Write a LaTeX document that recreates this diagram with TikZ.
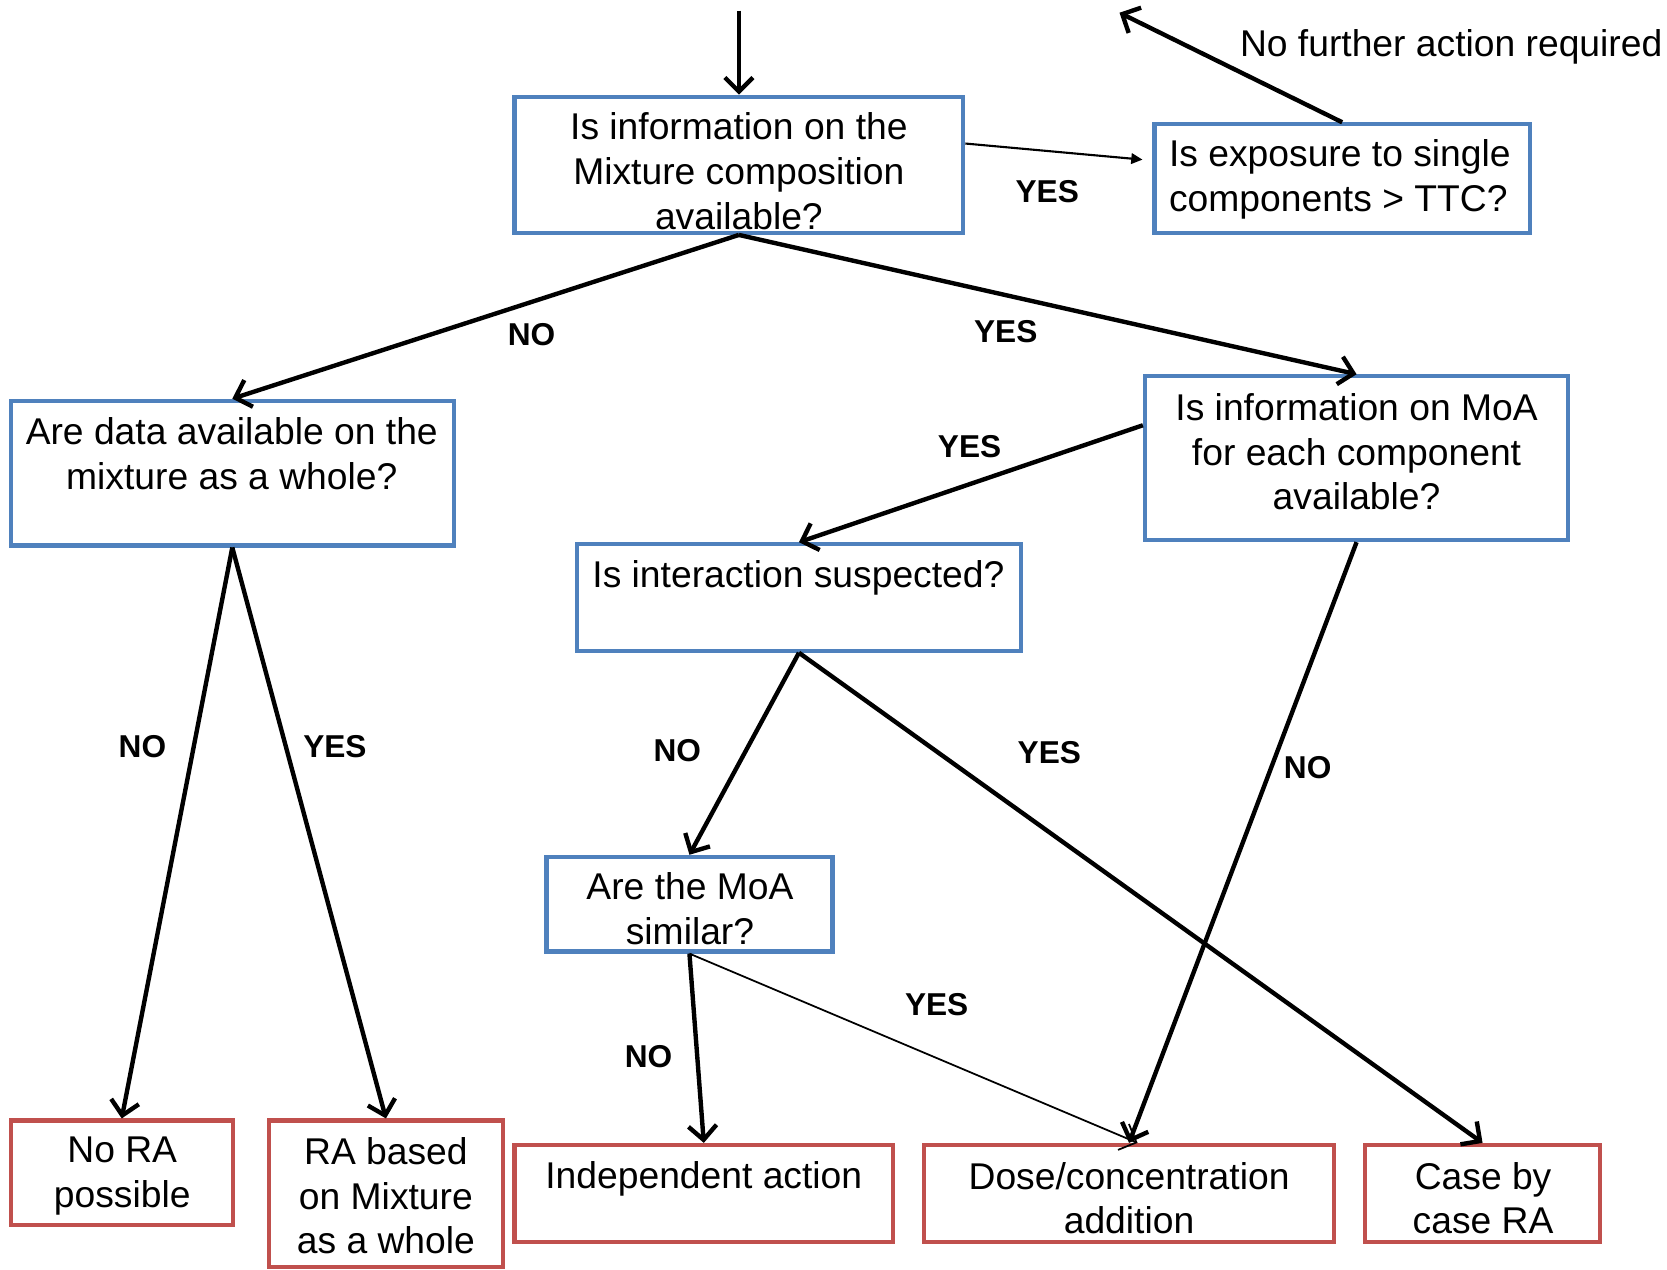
\documentclass[tikz,border=0pt]{standalone}
\usepackage{fontspec}
\setsansfont{Liberation Sans}
\usetikzlibrary{
  calc,
  fit,
  arrows.meta}
\definecolor{questioncolor}{RGB}{79,129,189}
\definecolor{outcomecolor}{RGB}{192,80,77}
\tikzset{
  %% question : a box that asks something
  question/.style={
    rectangle,
    draw=questioncolor,
    line width=1.2pt,
    inner sep=0pt
  },
  %% outcome : a box with the kind of risk assessment
  outcome/.style={
    rectangle,
    draw=outcomecolor,
    line width=1.2pt,
    inner sep=0pt
  },
  %% boxtext : the text inside a box
  boxtext/.style={
    align=center,
    inner sep=0pt,
    font=\fontsize{10.6}{12.7}\selectfont
  },
  %% answer : YES / NO on a connection
  answer/.style={
    inner sep=0pt,
    font=\fontsize{9}{11}\selectfont\bfseries
  },
  %% flow : thick connection
  flow/.style={line width=1.25pt, -{Straight Barb[length=4pt,width=8pt]}},
  %% thinflow : thin connection
  thinflow/.style={line width=0.5pt, -{Straight Barb[length=4pt,width=8pt]}},
  %% pointer : thin connection with a filled tip
  pointer/.style={line width=0.6pt, -{Triangle[length=3.2pt,width=3pt]}}
}

\begin{document}
\begin{tikzpicture}
  [x=0.01063cm,
  y=-0.01063cm]
  \sffamily
  \useasboundingbox (0,0) rectangle (1568,1194);

  %% Questions
  \node (qmix) [question, fit={(484,91) (906,219)}] {};
  \node (qmixtext) [boxtext] at (695,161) {%
    Is information on the\\
    Mixture composition\\
    available?%
  };

  \node (qttc) [question, fit={(1086,117) (1439,219)}] {};
  \node (qttctext) [boxtext, align=left, anchor=west] at (1099,169) {%
    Is exposure to single\\
    components > TTC?%
  };

  \node (qwhole) [question, fit={(10,377) (427,513)}] {};
  \node (qwholetext) [boxtext] at (218,427) {%
    Are data available on the\\
    mixture as a whole?%
  };

  \node (qmoa) [question, fit={(1077,354) (1475,508)}] {};
  \node (qmoatext) [boxtext] at (1276,425) {%
    Is information on MoA\\
    for each component\\
    available?%
  };

  \node (qinter) [question, fit={(543,512) (960,612)}] {};
  \node (qintertext) [boxtext] at (751,544) {%
    Is interaction suspected?%
  };

  \node (qsimilar) [question, fit={(514,806) (783,895)}] {};
  \node (qsimilartext) [boxtext] at (649,855) {%
    Are the MoA\\
    similar?%
  };

  %% Outcomes
  \node (norisk) [outcome, fit={(10,1054) (219,1152)}] {};
  \node (norisktext) [boxtext] at (115,1106) {%
    No RA\\
    possible%
  };

  \node (rawhole) [outcome, fit={(253,1054) (473,1192)}] {};
  \node (rawholetext) [boxtext] at (363,1125) {%
    RA based\\
    on Mixture\\
    as a whole%
  };

  \node (indep) [outcome, fit={(484,1077) (840,1168)}] {};
  \node (indeptext) [boxtext] at (662,1109) {%
    Independent action%
  };

  \node (dose) [outcome, fit={(869,1077) (1255,1168)}] {};
  \node (dosetext) [boxtext] at (1062,1127) {%
    Dose/concentration\\
    addition%
  };

  \node (casebycase) [outcome, fit={(1284,1077) (1505,1168)}] {};
  \node (casebycasetext) [boxtext] at (1395,1127) {%
    Case by\\
    case RA%
  };

  %% Connections
  \coordinate (start) at (695,10);
  \coordinate (nofurther) at (1053,12);
  \node (nofurthertext) [boxtext] at (1365,44) {%
    No further action required%
  };

  \draw [flow] (start) -- (qmix.north);
  \draw [pointer, shorten >=0.1cm] ($(qmix.east)+(0,-20)$) -- ($(qttc.west)+(0,-17)$);
  \draw [flow] (qttc.north) -- (nofurther);
  \draw [flow] (qmix.south) -- (qwhole.north);
  \draw [flow] (qmix.south) -- (qmoa.north);
  \draw [flow] ($(qmoa.west)+(0,-31)$) -- (qinter.north);
  \draw [flow] (qinter.south) -- (qsimilar.north);
  \draw [flow] (qinter.south) -- (casebycase.north);
  \draw [flow] (qmoa.south) -- (dose.north);
  \draw [flow] (qsimilar.south) -- (indep.north);
  \draw [thinflow] (qsimilar.south) -- ($(dose.north)+(8,0)$);
  \draw [flow] (qwhole.south) -- (norisk.north);
  \draw [flow] (qwhole.south) -- (rawhole.north);

  %% Answers
  \node (a1) [answer] at (985,180) {YES};
  \node (a2) [answer] at (500,315) {NO};
  \node (a3) [answer] at (946,312) {YES};
  \node (a4) [answer] at (912,420) {YES};
  \node (a5) [answer] at (134,702) {NO};
  \node (a6) [answer] at (315,702) {YES};
  \node (a7) [answer] at (637,706) {NO};
  \node (a8) [answer] at (987,708) {YES};
  \node (a9) [answer] at (1230,722) {NO};
  \node (a10) [answer] at (610,994) {NO};
  \node (a11) [answer] at (881,945) {YES};

\end{tikzpicture}
\end{document}
